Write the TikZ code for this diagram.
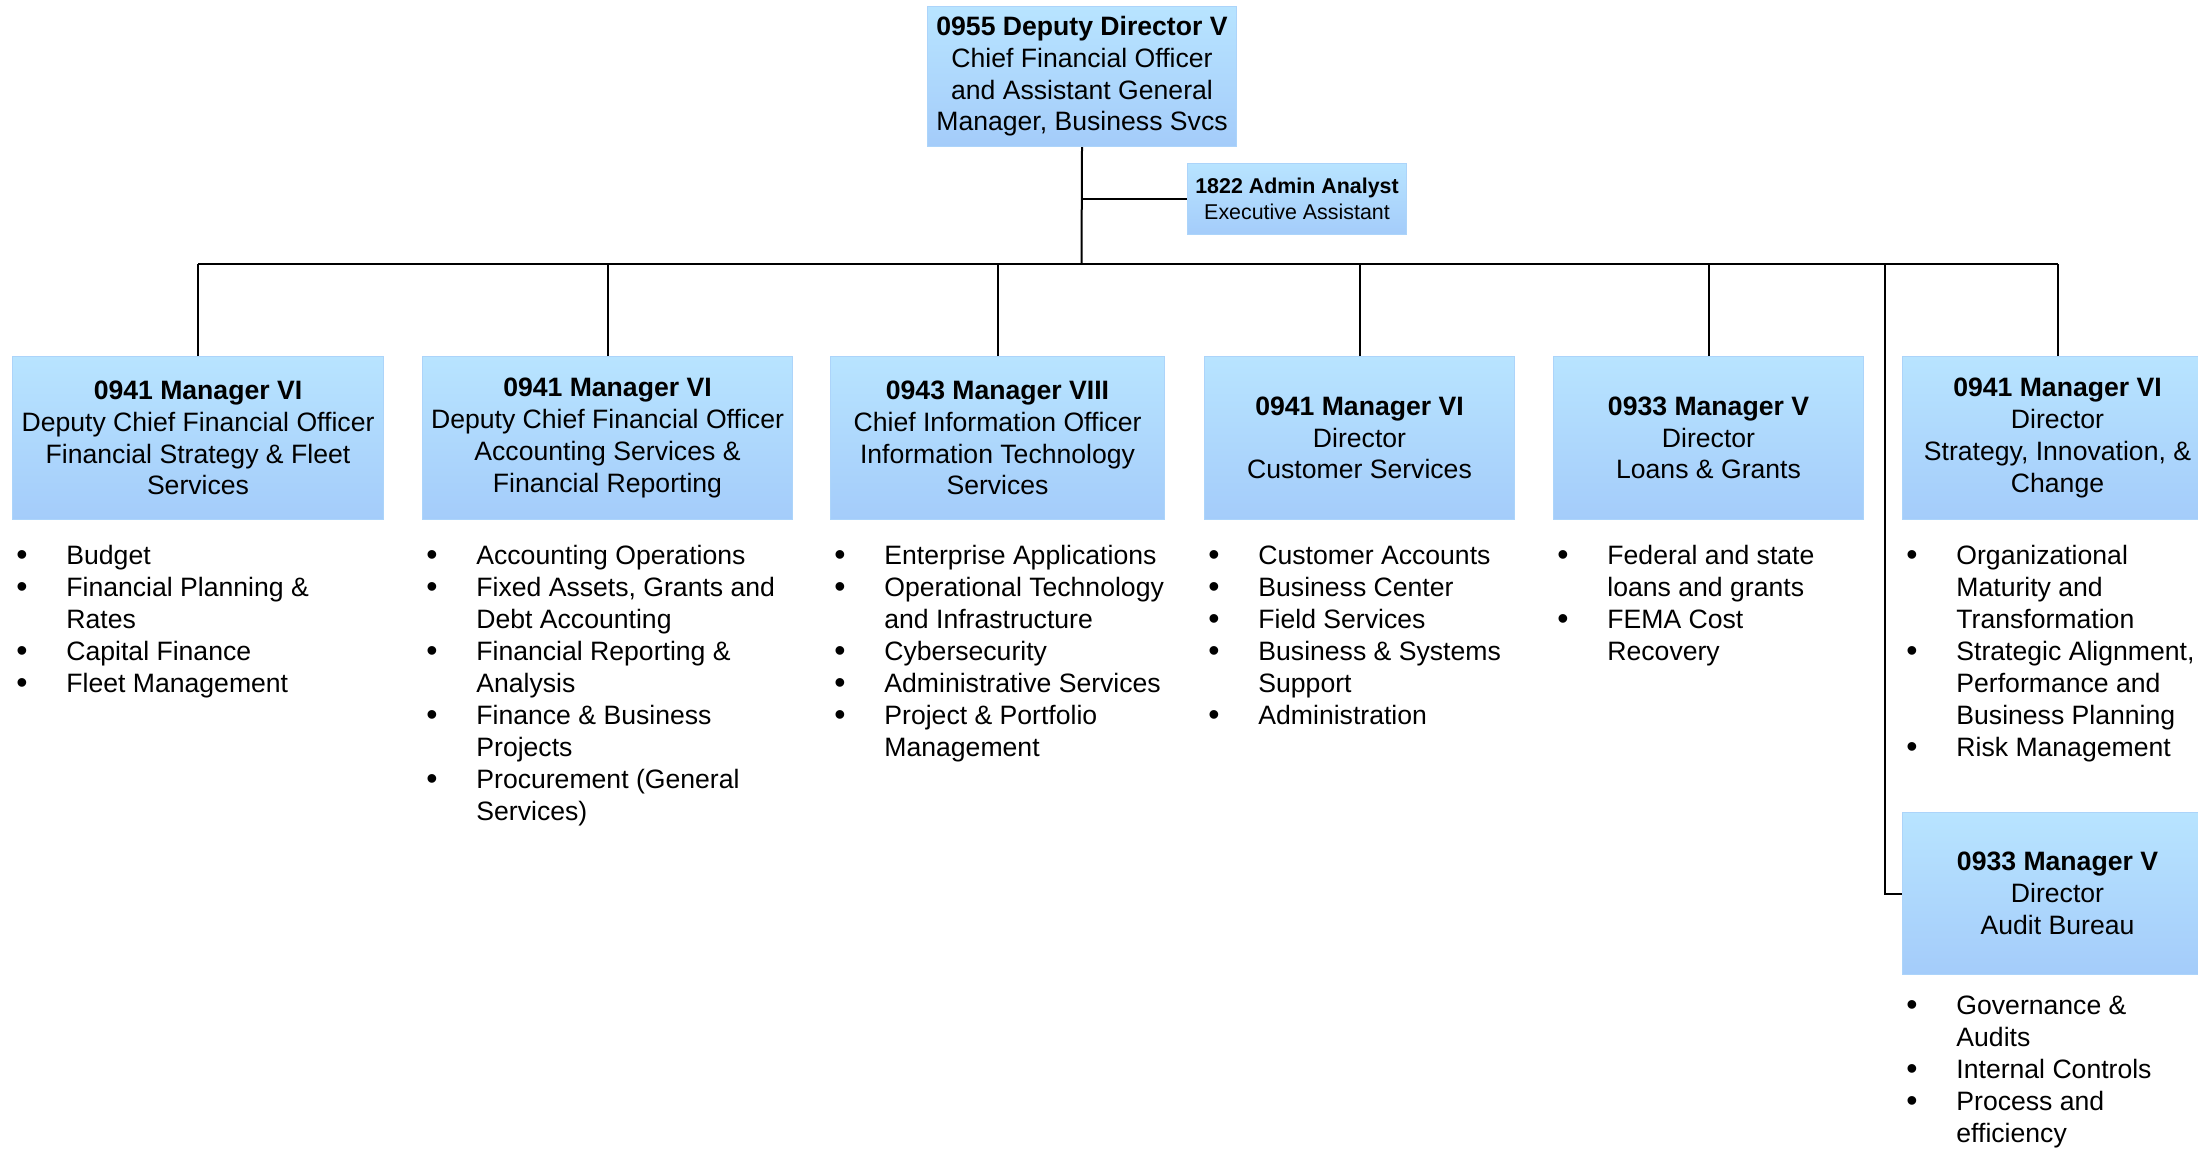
\documentclass[tikz,border=0pt]{standalone}
\usepackage{fontspec}
\setmainfont{Liberation Sans}
\usepackage{array}
\definecolor{boxtop}{RGB}{184,228,255}
\definecolor{boxbot}{RGB}{164,204,250}
\definecolor{boxline}{RGB}{172,212,250}
\newcommand{\orgbul}{{\fontsize{16}{16}\selectfont\raisebox{-0.7pt}{\textbullet}}}
\tikzset{
  orgbox/.style={rectangle, top color=boxtop, bottom color=boxbot, draw=boxline,
    line width=0.5pt, align=center, inner sep=0pt, anchor=north west,
    font=\fontsize{13.3}{15.85}\selectfont},
  listnode/.style={anchor=north west, inner sep=0pt, font=\fontsize{13.3}{16}\selectfont},
  conn/.style={draw=black, line width=1pt}
}
\newcommand{\orglist}[1]{\begin{tabular}{@{}p{25pt}@{}l@{}}#1\end{tabular}}
\begin{document}
\begin{tikzpicture}[x=0.5pt,y=-0.5pt]
\useasboundingbox (0,0) rectangle (2198,1148);
\clip (0,0) rectangle (2198,1148);

% top
\node[orgbox, minimum width=154.5pt, minimum height=70pt] (top) at (927,6)
  {\textbf{0955 Deputy Director V}\\Chief Financial Officer\\and Assistant General\\Manager, Business Svcs};
\node[orgbox, minimum width=109.5pt, minimum height=35.5pt, font=\fontsize{10.7}{13.2}\selectfont] (adm) at (1187,163)
  {\textbf{1822 Admin Analyst}\\Executive Assistant};

% row
\node[orgbox, minimum width=185.5pt, minimum height=81.5pt] (b1) at (12,356)
  {\textbf{0941 Manager VI}\\Deputy Chief Financial Officer\\Financial Strategy \& Fleet\\Services};
\node[orgbox, minimum width=185pt, minimum height=81.5pt] (b2) at (422,356)
  {\textbf{0941 Manager VI}\\Deputy Chief Financial Officer\\Accounting Services \&\\Financial Reporting};
\node[orgbox, minimum width=167pt, minimum height=81.5pt] (b3) at (830,356)
  {\textbf{0943 Manager VIII}\\Chief Information Officer\\Information Technology\\Services};
\node[orgbox, minimum width=155pt, minimum height=81.5pt] (b4) at (1204,356)
  {\textbf{0941 Manager VI}\\Director\\Customer Services};
\node[orgbox, minimum width=155pt, minimum height=81.5pt] (b5) at (1553,356)
  {\textbf{0933 Manager V}\\Director\\Loans \& Grants};
\node[orgbox, minimum width=155pt, minimum height=81.5pt] (b6) at (1902,356)
  {\textbf{0941 Manager VI}\\Director\\Strategy, Innovation, \&\\Change};
\node[orgbox, minimum width=155pt, minimum height=81pt] (aud) at (1902,812)
  {\textbf{0933 Manager V}\\Director\\Audit Bureau};

% lists
\node[listnode] (l1) at (16,541.6) {\orglist{%
  \orgbul & Budget\\ \orgbul & Financial Planning \&\\ & Rates\\ \orgbul & Capital Finance\\ \orgbul & Fleet Management}};
\node[listnode] (l2) at (426,541.6) {\orglist{%
  \orgbul & Accounting Operations\\ \orgbul & Fixed Assets, Grants and\\ & Debt Accounting\\
  \orgbul & Financial Reporting \&\\ & Analysis\\ \orgbul & Finance \& Business\\ & Projects\\
  \orgbul & Procurement (General\\ & Services)}};
\node[listnode] (l3) at (834,541.6) {\orglist{%
  \orgbul & Enterprise Applications\\ \orgbul & Operational Technology\\ & and Infrastructure\\
  \orgbul & Cybersecurity\\ \orgbul & Administrative Services\\ \orgbul & Project \& Portfolio\\ & Management}};
\node[listnode] (l4) at (1208,541.6) {\orglist{%
  \orgbul & Customer Accounts\\ \orgbul & Business Center\\ \orgbul & Field Services\\
  \orgbul & Business \& Systems\\ & Support\\ \orgbul & Administration}};
\node[listnode] (l5) at (1557,541.6) {\orglist{%
  \orgbul & Federal and state\\ & loans and grants\\ \orgbul & FEMA Cost\\ & Recovery}};
\node[listnode] (l6) at (1906,541.6) {\orglist{%
  \orgbul & Organizational\\ & Maturity and\\ & Transformation\\
  \orgbul & Strategic Alignment,\\ & Performance and\\ & Business Planning\\ \orgbul & Risk Management}};
\node[listnode] (l7) at (1906,991.6) {\orglist{%
  \orgbul & Governance \&\\ & Audits\\ \orgbul & Internal Controls\\ \orgbul & Process and\\ & efficiency}};

% connectors
\coordinate (bj) at (1081.5,264);
\coordinate (aj) at (1885,264);
\draw[conn] (top.south) -- (bj);
\draw[conn] (top.south |- adm.west) -- (adm.west);
\draw[conn] (b1.north |- bj) -- (b6.north |- bj);
\foreach \b in {b1,b2,b3,b4,b5,b6} \draw[conn] (\b.north) -- (\b.north |- bj);
\draw[conn] (aj) |- (aud.west);
\end{tikzpicture}
\end{document}
